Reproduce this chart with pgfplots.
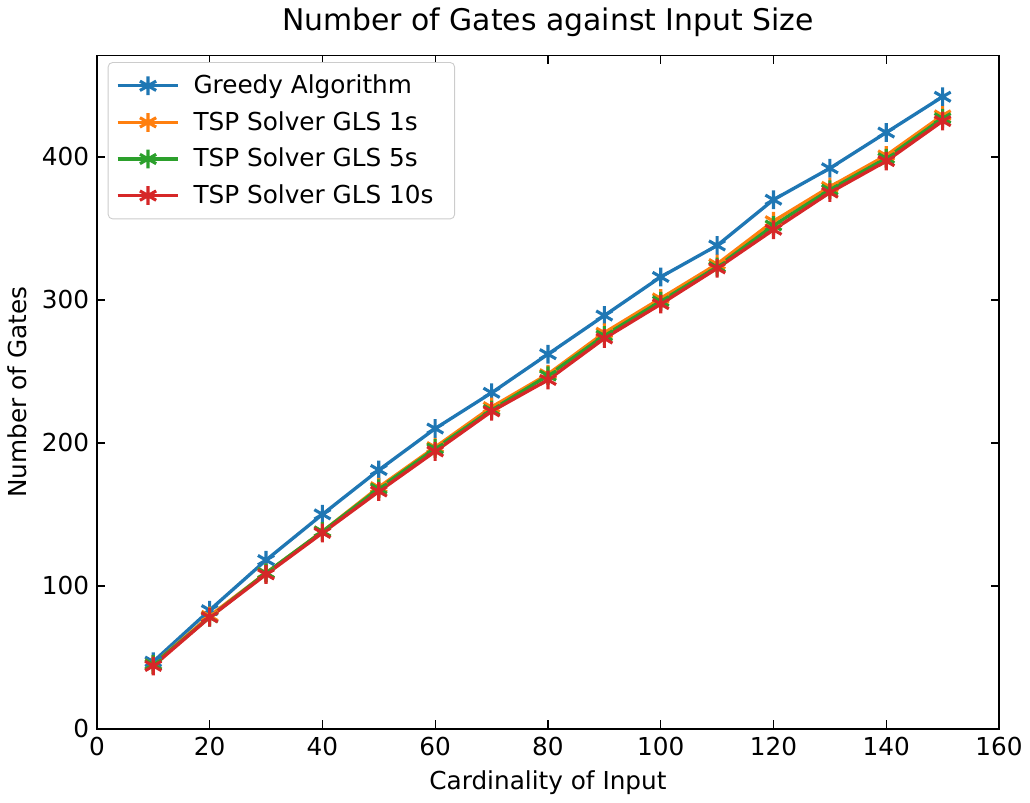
\documentclass[border=0pt]{standalone}
\usepackage{pgfplots}
\pgfplotsset{compat=1.18}
\usepackage{fontspec}
\setmainfont{DejaVu Sans}
\definecolor{tabblue}{HTML}{1F77B4}
\definecolor{taborange}{HTML}{FF7F0E}
\definecolor{tabgreen}{HTML}{2CA02C}
\definecolor{tabred}{HTML}{D62728}
\begin{document}
\begin{tikzpicture}
\begin{axis}[
  scale only axis,
  width=405pt, height=302.4pt,
  xmin=0, xmax=160, ymin=0, ymax=471,
  xtick={0,20,...,160}, ytick={0,100,...,400},
  tick align=inside,
  major tick length=3.8pt,
  tick style={black, line width=0.6pt},
  axis line style={line width=0.6pt},
  /pgf/number format/assume math mode=true,
  ticklabel style={font=\fontsize{11.1}{13}\selectfont},
  title={Number of Gates against Input Size},
  title style={font=\fontsize{13.4}{16}\selectfont, yshift=-1pt},
  xlabel={Cardinality of Input},
  ylabel={Number of Gates},
  label style={font=\fontsize{11.1}{13}\selectfont},
  legend style={font=\fontsize{11.1}{13}\selectfont, draw=black!20, rounded corners=2pt, at={(0.012,0.99)}, anchor=north west, row sep=2.5pt, inner sep=3.5pt, nodes={inner xsep=6pt}},
  legend cell align=left,
  legend image code/.code={\draw[mark repeat=2,mark phase=2] plot coordinates {(0cm,0cm)(0.48cm,0cm)(0.96cm,0cm)};},
  every axis plot/.append style={line width=1.5pt, mark=asterisk, mark size=4.2pt, mark options={line width=1.4pt}},
]
\addplot[color=tabblue] coordinates {(10,47)(20,83)(30,118)(40,150)(50,181)(60,210)(70,235)(80,262)(90,289)(100,316)(110,338)(120,370)(130,392)(140,417)(150,442)};
\addlegendentry{Greedy Algorithm}
\addplot[color=taborange] coordinates {(10,45)(20,79)(30,109)(40,138)(50,169)(60,197)(70,225)(80,248)(90,277)(100,301)(110,325)(120,355)(130,379)(140,401)(150,429)};
\addlegendentry{TSP Solver GLS 1s}
\addplot[color=tabgreen] coordinates {(10,45)(20,78)(30,109)(40,138)(50,168)(60,196)(70,223)(80,247)(90,275)(100,299)(110,323)(120,352)(130,377)(140,399)(150,427)};
\addlegendentry{TSP Solver GLS 5s}
\addplot[color=tabred] coordinates {(10,44)(20,78)(30,108)(40,137)(50,166)(60,194)(70,222)(80,244)(90,273)(100,297)(110,322)(120,349)(130,375)(140,397)(150,425)};
\addlegendentry{TSP Solver GLS 10s}
\end{axis}
\end{tikzpicture}
\end{document}
